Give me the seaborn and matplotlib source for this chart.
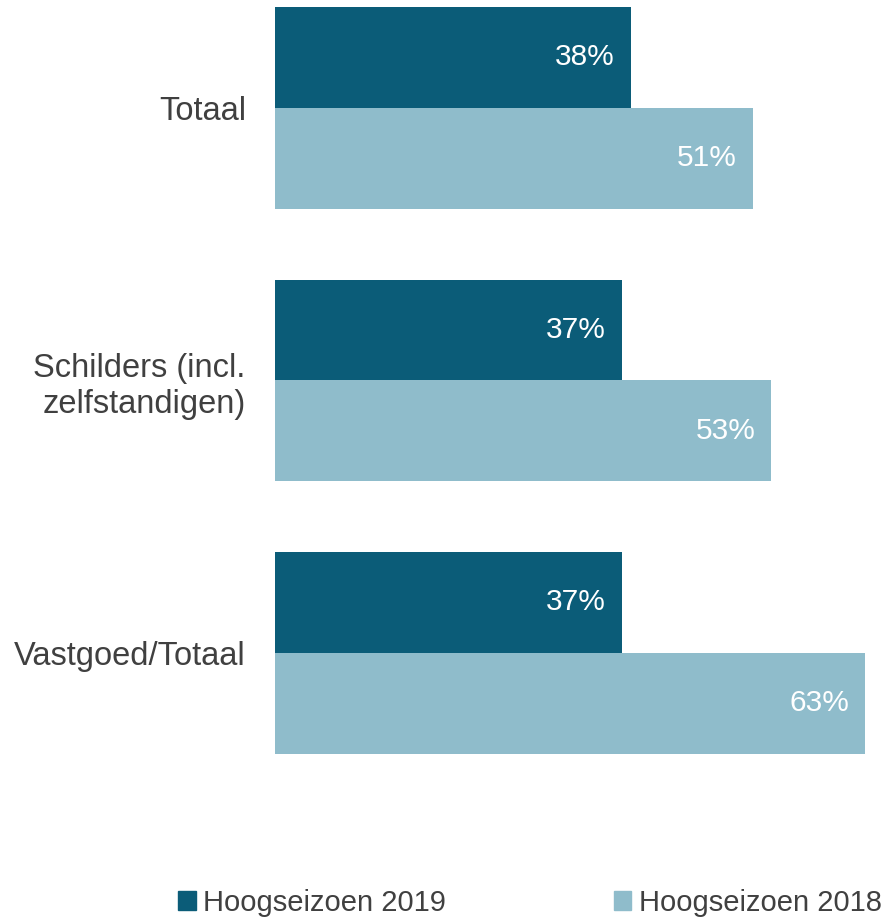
import pandas as pd
import seaborn as sns
from matplotlib import pyplot as plt

# Chart data
categories = ['Totaal', 'Schilders (incl.\nzelfstandigen)', 'Vastgoed/Totaal']
series = ['Hoogseizoen 2019', 'Hoogseizoen 2018']
values_2019 = [38, 37, 37]
values_2018 = [51, 53, 63]
colors = ['#0B5C78', '#8FBCCB']

df = pd.DataFrame({
    'categorie': categories * 2,
    'reeks': [series[0]] * 3 + [series[1]] * 3,
    'waarde': values_2019 + values_2018,
})

sns.set_style('white')
plt.rcParams['font.family'] = ['Liberation Sans', 'DejaVu Sans']
text_color = '#404040'

fig = plt.figure(figsize=(8.84, 9.21), dpi=100)
ax = fig.add_axes([275 / 884, 121 / 921, 590 / 884, 800 / 921])

sns.barplot(data=df, y='categorie', x='waarde', hue='reeks', orient='h',
            palette=colors, width=0.74, saturation=1, linewidth=0,
            ax=ax, legend=False)

ax.set_xlim(0, 63)
ax.set_ylim(2.54, -0.396)
ax.set_xlabel('')
ax.set_ylabel('')
ax.set_xticks([])
ax.tick_params(axis='y', length=0, pad=21, labelsize=23.5, labelcolor=text_color)
for t in ax.get_yticklabels():
    t.set_ha('right')
    t.set_multialignment('right')
sns.despine(ax=ax, left=True, bottom=True)

# value labels inside the bar ends
for cont in ax.containers:
    labels = ax.bar_label(cont, fmt='%d%%', padding=-11.5, color='white', fontsize=21.5)
    for lab in labels:
        lab.set_ha('right')

handles = [plt.Rectangle((0, 0), 1, 1, color=c) for c in colors]
fig.legend(handles, series, loc='center', bbox_to_anchor=(530 / 884, 1 - 903 / 921),
           ncol=2, frameon=False, fontsize=21, labelcolor=text_color,
           handlelength=0.6, handleheight=0.6, handletextpad=0.25, columnspacing=5.75,
           borderpad=0, borderaxespad=0)

fig.savefig('out.png', dpi=100)
